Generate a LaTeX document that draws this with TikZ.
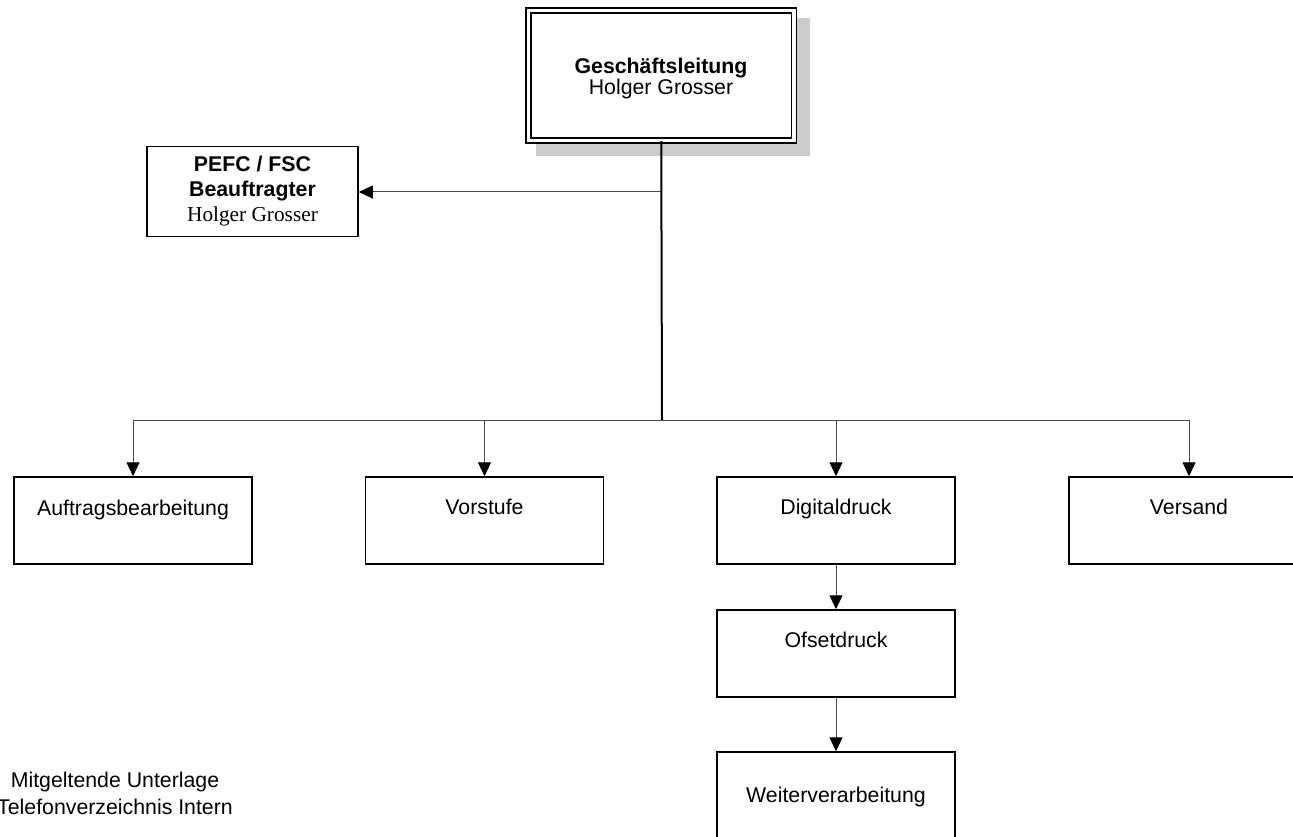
\documentclass[tikz,border=0pt]{standalone}
\usepackage{fontspec}
\setmainfont{Liberation Sans}
\newfontfamily\tms{Liberation Serif}
\usetikzlibrary{arrows.meta}
\begin{document}
\begin{tikzpicture}[x=1pt,y=-1pt,
  box/.style={draw=black,line width=1.5pt,fill=white,rectangle,inner sep=0pt},
  txt/.style={anchor=base,inner sep=0pt,font=\fontsize{21.3}{22}\selectfont},
  conn/.style={draw=black!70,line width=1pt},
  arr/.style={conn,-{Triangle[length=14pt,width=13pt,color=black,fill=black]}},
  trunk/.style={draw=black,line width=2pt}]
\useasboundingbox (0,0) rectangle (1293,837);
% shadow
\fill[black!20] (536,18) rectangle (810,156);
% top box
\node[box,double,double distance=3.5pt,minimum width=265.5pt,minimum height=130pt] (gl) at (661.25,75.5) {};
\node[txt] (glt1) at (661,74) {\bfseries Geschäftsleitung};
\node[txt] (glt2) at (661,95) {Holger Grosser};
% PEFC box
\node[box,minimum width=211pt,minimum height=90pt] (pefc) at (252.5,191.5) {};
\node[txt] (p1) at (252.5,172) {\bfseries PEFC / FSC};
\node[txt] (p2) at (252.5,197) {\bfseries Beauftragter};
\node[txt] (p3) at (252.5,222) {\tms Holger Grosser};
% row boxes
\node[box,minimum width=238pt,minimum height=87pt] (auf) at (133,520.5) {};
\node[txt] (auft) at (133,515) {Auftragsbearbeitung};
\node[box,minimum width=238pt,minimum height=87pt] (vor) at (484.5,520.5) {};
\node[txt] (vort) at (484.5,514) {Vorstufe};
\node[box,minimum width=238pt,minimum height=87pt] (dig) at (836,520.5) {};
\node[txt] (digt) at (836,514) {Digitaldruck};
\node[box,minimum width=240pt,minimum height=87pt] (vers) at (1189,520.5) {};
\node[txt] (verst) at (1189,514) {Versand};
\node[box,minimum width=238pt,minimum height=87pt] (ofs) at (836,653.5) {};
\node[txt] (ofst) at (836,647) {Ofsetdruck};
\node[box,minimum width=238pt,minimum height=100pt] (wei) at (836,802) {};
\node[txt] (weit) at (836,802) {Weiterverarbeitung};
% note
\node[txt] (n1) at (115,787) {Mitgeltende Unterlage};
\node[txt] (n2) at (115,814) {Telefonverzeichnis Intern};
% connectors
\coordinate (jp) at (662,192);
\coordinate (j) at (662,420);
\draw[arr] (jp) -- (pefc.east |- jp);
\draw[conn] (auf.north |- j) -- (vers.north |- j);
\draw[trunk] (gl.south) -- (j);
\draw[arr] (auf.north |- j) -- (auf.north);
\draw[arr] (vor.north |- j) -- (vor.north);
\draw[arr] (dig.north |- j) -- (dig.north);
\draw[arr] (vers.north |- j) -- (vers.north);
\draw[arr] (dig.south) -- (ofs.north);
\draw[arr] (ofs.south) -- (wei.north);
\end{tikzpicture}
\end{document}
